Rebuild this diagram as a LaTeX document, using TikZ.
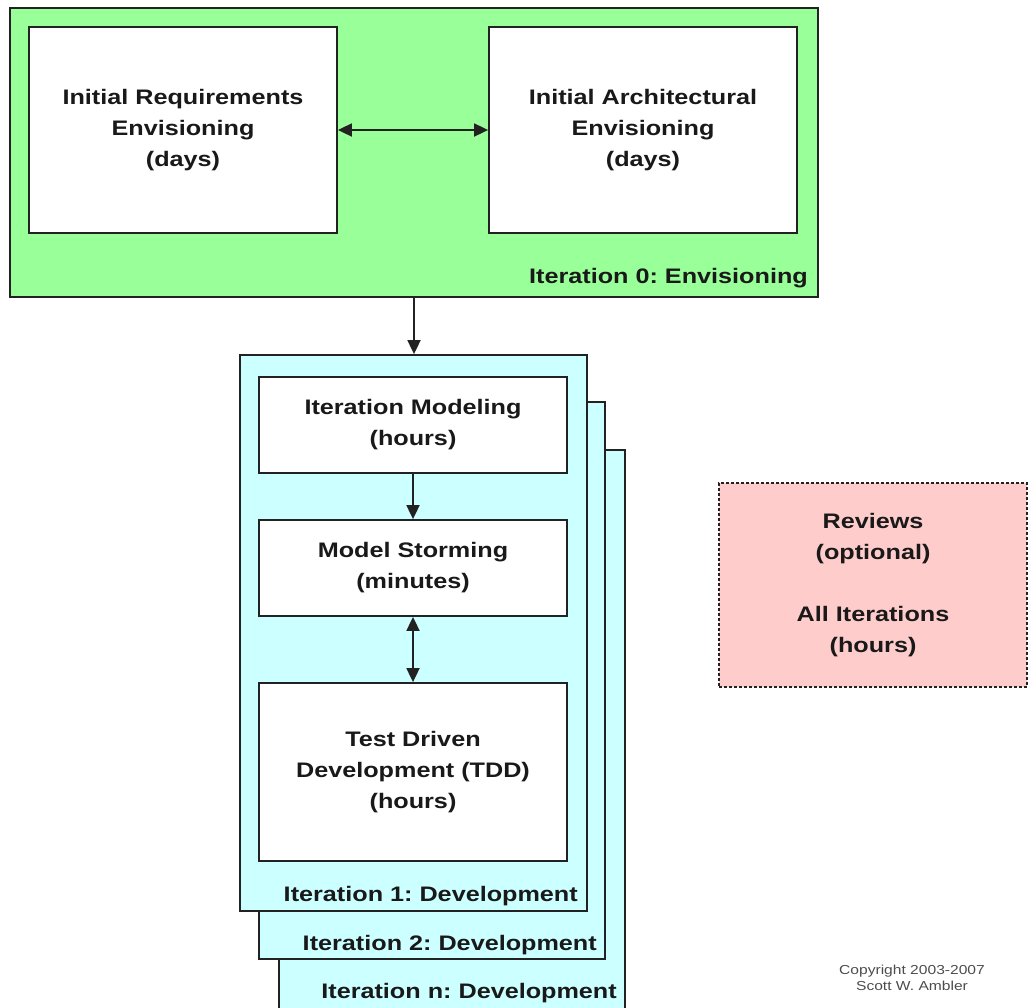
\documentclass[tikz,border=0pt]{standalone}
\usepackage{fontspec}
\setmainfont[FakeStretch=1.2]{Liberation Sans}
\usetikzlibrary{arrows.meta}

\definecolor{envgreen}{HTML}{99FF99}
\definecolor{itcyan}{HTML}{CCFFFF}
\definecolor{revpink}{HTML}{FFCCCC}
\definecolor{edge}{HTML}{222222}

\tikzset{
  box/.style={draw=edge, line width=1.8pt, rectangle, inner sep=0pt},
  txt/.style={font=\fontsize{21}{31}\selectfont\bfseries\frenchspacing, align=center, text=black!90},
  lbl/.style={font=\fontsize{21}{31}\selectfont\bfseries\frenchspacing, anchor=base east, text=black!90, inner sep=0pt},
  flow/.style={line width=1.8pt, edge, -{Triangle[length=14pt,width=13pt]}},
  both/.style={line width=1.8pt, edge, {Triangle[length=14pt,width=13pt]}-{Triangle[length=14pt,width=13pt]}}
}

\begin{document}
\begin{tikzpicture}[x=1pt,y=-1pt]
      \useasboundingbox (0,0) rectangle (1036,1007);
      \clip (0,0) rectangle (1036,1007);

      % ITERATION 0
      \node[box, fill=envgreen, minimum width=808pt, minimum height=289pt] (It0) at (414,152.5) {};
      \node[box, fill=white, minimum width=308pt, minimum height=206pt, txt] (IR) at (183,130) {Initial Requirements\\Envisioning\\(days)};
      \node[box, fill=white, minimum width=308pt, minimum height=206pt, txt] (IA) at (643,130) {Initial Architectural\\Envisioning\\(days)};
      \node[lbl] (It0l) at (808,283) {Iteration 0: Envisioning};
      \draw[both] (IR) -- (IA);

      % ITERATIONS (PILE)
      \node[box, fill=itcyan, minimum width=346pt, minimum height=560pt] (Itn) at (452,730) {};
      \node[box, fill=itcyan, minimum width=346pt, minimum height=557pt] (It2) at (432,680.5) {};
      \node[box, fill=itcyan, minimum width=347pt, minimum height=556pt] (It1) at (413.5,633) {};
      \node[lbl] (Itnl) at (617,998) {Iteration n: Development};
      \node[lbl] (It2l) at (597,950) {Iteration 2: Development};
      \node[lbl] (It1l) at (578,901) {Iteration 1: Development};

      % BOITES ITERATION 1
      \node[box, fill=white, minimum width=308pt, minimum height=96pt, txt] (IM) at (413,425) {Iteration Modeling\\(hours)};
      \node[box, fill=white, minimum width=308pt, minimum height=96pt, txt] (MS) at (413,568) {Model Storming\\(minutes)};
      \node[box, fill=white, minimum width=308pt, minimum height=178pt, txt] (TDD) at (413,772) {Test Driven\\Development (TDD)\\(hours)};

      % FLECHES
      \draw[flow] (It0.south -| 414,0) -- (It1.north -| 414,0);
      \draw[flow] (IM) -- (MS);
      \draw[both] (MS) -- (TDD);

      % REVUES
      \node[box, fill=revpink, dashed, dash pattern=on 3pt off 2pt, minimum width=308pt, minimum height=204pt, txt] (Rev) at (873,585) {Reviews\\(optional)\\[31pt]All Iterations\\(hours)};

      % COPYRIGHT
      \node[font=\fontsize{13}{16}\selectfont, align=center, text=black!70] (Copy) at (912,978) {Copyright 2003-2007\\Scott W. Ambler};
\end{tikzpicture}
\end{document}
